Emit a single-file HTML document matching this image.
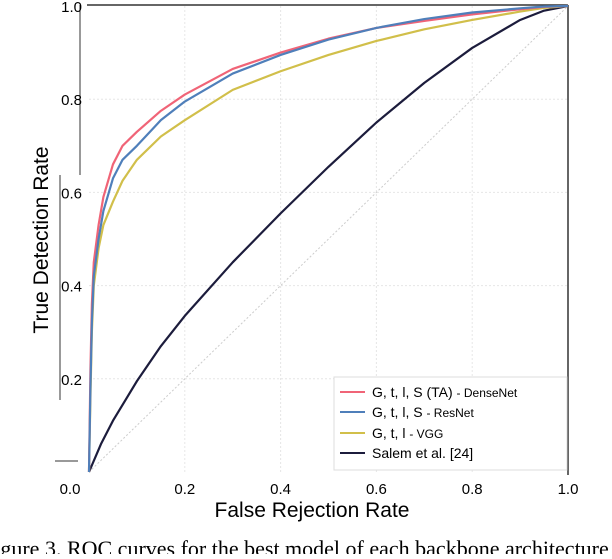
<!DOCTYPE html>
<html><head><meta charset="utf-8"><style>
body{margin:0;background:#fff;width:612px;height:554px;overflow:hidden}
svg text{font-family:"Liberation Sans",sans-serif}
</style></head><body>
<svg width="612" height="554">
<g id="grid"></g>
<line x1="89" y1="472" x2="568" y2="6" stroke="#ccc" stroke-width="1" stroke-dasharray="2,2"/>
<line x1="87" y1="5" x2="568" y2="5" stroke="#333" stroke-width="1.5"/>
<line x1="568" y1="5" x2="568" y2="475" stroke="#333" stroke-width="1.5"/>
<line x1="80" y1="5" x2="80" y2="175" stroke="#333" stroke-width="1"/>
<line x1="60" y1="175" x2="60" y2="400" stroke="#333" stroke-width="1"/>
<line x1="55" y1="461" x2="78" y2="461" stroke="#333" stroke-width="1"/>
<g id="ticks"></g>
<g id="series"></g>
<text x="48" y="240" font-size="21" text-anchor="middle" transform="rotate(-90 48 240)">True Detection Rate</text>
<text x="312" y="517" font-size="21" text-anchor="middle">False Rejection Rate</text>
<rect x="334" y="377" width="233" height="93" fill="#fff" stroke="#ddd"/>
<g><line x1="340" y1="392" x2="365" y2="392" stroke="#f06477" stroke-width="2"/><text x="372" y="397" font-size="14">G, t, l, S (TA) <tspan font-size="12">- DenseNet</tspan></text></g>
<g><line x1="340" y1="412" x2="365" y2="412" stroke="#4f7fba" stroke-width="2"/><text x="372" y="417" font-size="14">G, t, l, S <tspan font-size="12">- ResNet</tspan></text></g>
<g><line x1="340" y1="433" x2="365" y2="433" stroke="#d1bf4a" stroke-width="2"/><text x="372" y="438" font-size="14">G, t, l <tspan font-size="12">- VGG</tspan></text></g>
<g><line x1="340" y1="453" x2="365" y2="453" stroke="#1c1c3c" stroke-width="2"/><text x="372" y="458" font-size="14">Salem et al. [24]</text></g>
<text x="-18" y="556" font-size="22" style="font-family:'Liberation Serif',serif">Figure 3. ROC curves for the best model of each backbone architecture</text>
</svg>
<script>
const ticks=[0,0.2,0.4,0.6,0.8,1.0];
const tickLabels=["0.0","0.2","0.4","0.6","0.8","1.0"];
const denseX=[0,0.003,0.006,0.01,0.02,0.03,0.05,0.07,0.1,0.15,0.2,0.3,0.4,0.5,0.6,0.7,0.8,0.9,0.95,1];
const denseY=[0,0.22,0.36,0.45,0.53,0.59,0.66,0.7,0.73,0.775,0.81,0.865,0.9,0.93,0.953,0.968,0.982,0.993,0.998,1];
const resY=[0,0.18,0.32,0.42,0.5,0.56,0.63,0.67,0.70,0.755,0.795,0.855,0.895,0.928,0.953,0.972,0.986,0.995,0.999,1];
const vggY=[0,0.16,0.3,0.4,0.48,0.53,0.58,0.625,0.67,0.72,0.755,0.82,0.86,0.895,0.925,0.95,0.97,0.988,0.996,1];
const salemX=[0,0.025,0.05,0.1,0.15,0.2,0.3,0.4,0.5,0.6,0.7,0.8,0.9,0.95,1];
const salemY=[0,0.06,0.11,0.195,0.27,0.335,0.45,0.555,0.655,0.75,0.835,0.91,0.97,0.99,1];
const NS="http://www.w3.org/2000/svg";
const sx=v=>89+v*479, sy=v=>472-v*466;
const grid=document.getElementById('grid'),tk=document.getElementById('ticks'),sr=document.getElementById('series');
ticks.forEach((t,i)=>{
 if(t>0&&t<1){
  let l=document.createElementNS(NS,'line');l.setAttribute('x1',sx(t));l.setAttribute('x2',sx(t));l.setAttribute('y1',6);l.setAttribute('y2',472);l.setAttribute('stroke','#e6e6e6');l.setAttribute('stroke-dasharray','2,2');
  
  
  grid.appendChild(l);
  let m=document.createElementNS(NS,'line');m.setAttribute('y1',sy(t));m.setAttribute('y2',sy(t));m.setAttribute('x1',89);m.setAttribute('x2',568);m.setAttribute('stroke','#e6e6e6');m.setAttribute('stroke-dasharray','2,2');
  
  
  grid.appendChild(m);
 }
 let a=document.createElementNS(NS,'text');a.setAttribute('x',sx(t));a.setAttribute('y',494);a.setAttribute('font-size',15);a.setAttribute('text-anchor','middle');a.textContent=tickLabels[i];
 if(t===0)a.setAttribute('x',70);
 
 
 tk.appendChild(a);
 if(t>0){
  let b=document.createElementNS(NS,'text');b.setAttribute('x',82);b.setAttribute('y',sy(t)+6);b.setAttribute('font-size',15);b.setAttribute('text-anchor','end');b.textContent=tickLabels[i];
  
  
  tk.appendChild(b);
 }
});
function draw(xs,ys,c,name){
 let p=document.createElementNS(NS,'polyline');
 p.setAttribute('points',xs.map((x,i)=>sx(x)+','+sy(ys[i])).join(' '));
 p.setAttribute('fill','none');p.setAttribute('stroke',c);p.setAttribute('stroke-width',2.2);p.setAttribute('stroke-linejoin','round');
 
 
 sr.appendChild(p);
}
draw(salemX,salemY,'#1c1c3c','salem-curve');
draw(denseX,vggY,'#d1bf4a','vgg-curve');
draw(denseX,denseY,'#f06477','densenet-curve');
draw(denseX,resY,'#4f7fba','resnet-curve');
</script>
</body></html>
